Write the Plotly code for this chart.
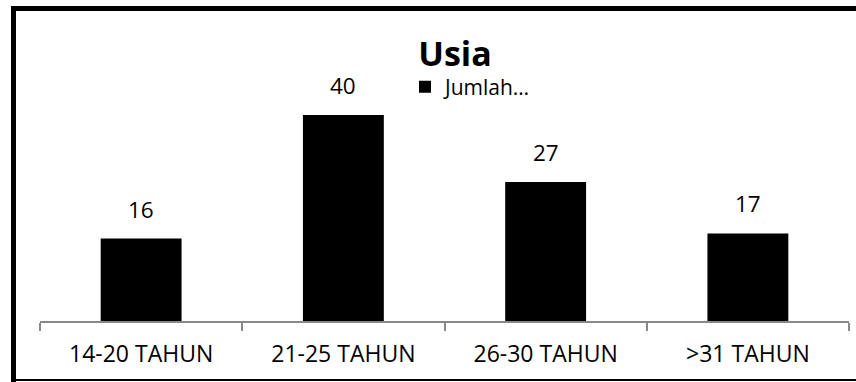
import plotly.graph_objects as go

# Data
categories = ["14-20 TAHUN", "21-25 TAHUN", "26-30 TAHUN", ">31 TAHUN"]
jumlah = [16, 40, 27, 17]
series_name = "Jumlah…"
chart_title = "Usia"

# Canvas and plot-area geometry (pixels)
W, H = 856, 382
L, R, T, B = 40, 7, 40, 61
plot_w = W - L - R
plot_h = H - T - B
px_per_unit = 5.15
ymax = plot_h / px_per_unit

FONT = "Open Sans"


def px_x(px):
    return (px - L) / plot_w


def px_y(py):
    return (H - B - py) / plot_h


fig = go.Figure()
fig.add_trace(go.Bar(
    x=categories,
    y=jumlah,
    name=series_name,
    marker=dict(color="#000000", line=dict(width=0)),
    showlegend=True,
))

# Value labels above each bar
for cat, val in zip(categories, jumlah):
    fig.add_annotation(
        x=cat, y=val, xref="x", yref="y",
        text=str(val), showarrow=False,
        yanchor="bottom", yshift=12,
        font=dict(family=FONT, size=22.5, color="#000000"),
    )

# Chart frame: heavy top/left edges, thin bottom edge
border = "#000000"
fig.add_shape(type="line", xref="paper", yref="paper",
              x0=px_x(11), x1=px_x(W + 5), y0=px_y(8.5), y1=px_y(8.5),
              line=dict(color=border, width=5))
fig.add_shape(type="line", xref="paper", yref="paper",
              x0=px_x(13.5), x1=px_x(13.5), y0=px_y(6), y1=px_y(H + 5),
              line=dict(color=border, width=5))
fig.add_shape(type="line", xref="paper", yref="paper",
              x0=px_x(11), x1=px_x(W + 5), y0=px_y(380), y1=px_y(380),
              line=dict(color=border, width=2))

fig.update_layout(
    width=W, height=H,
    margin=dict(l=L, r=R, t=T, b=B, pad=0),
    paper_bgcolor="#ffffff",
    plot_bgcolor="#ffffff",
    bargap=0.6,
    font=dict(family=FONT, size=22, color="#000000"),
    title=dict(
        text="<b>" + chart_title + "</b>",
        font=dict(family=FONT, size=34, color="#000000"),
        x=px_x(455), xref="paper", xanchor="center",
        y=1 - 54 / H, yref="container", yanchor="middle",
    ),
    legend=dict(
        x=px_x(405), y=px_y(87), xanchor="left", yanchor="middle",
        xref="paper", yref="paper",
        font=dict(family=FONT, size=21, color="#000000"),
        bgcolor="rgba(0,0,0,0)",
        itemwidth=30,
    ),
    xaxis=dict(
        showline=True, linecolor="#898989", linewidth=1.5,
        ticks="outside", tickson="boundaries", ticklen=8,
        tickcolor="#898989", tickwidth=1.5,
        showgrid=False, zeroline=False,
        tickfont=dict(family=FONT, size=23, color="#000000"),
        ticklabelstandoff=12,
    ),
    yaxis=dict(visible=False, range=[0, ymax], fixedrange=True),
)

fig.write_html("out.html")
